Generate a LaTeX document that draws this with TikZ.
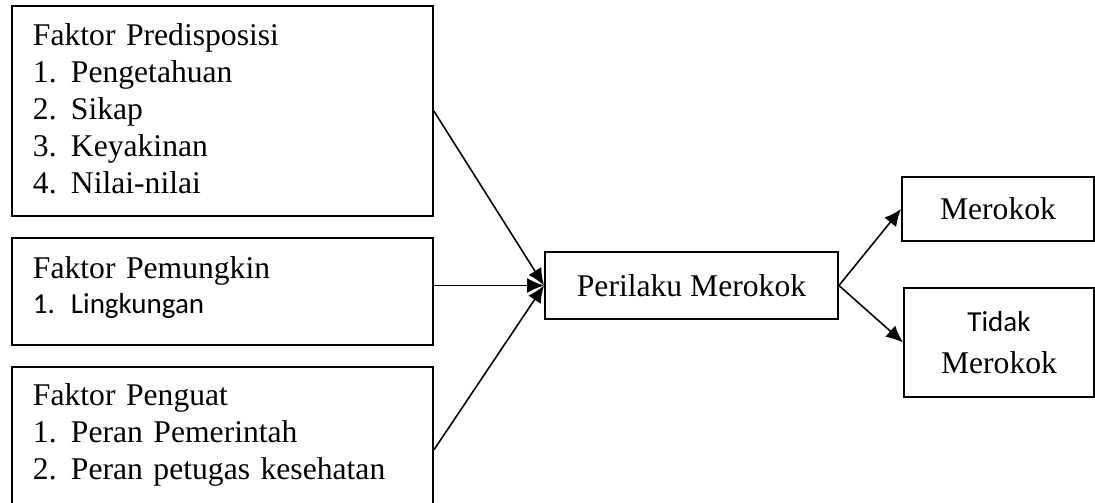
\documentclass[tikz,border=0pt]{standalone}
\usepackage{fontspec}
\setmainfont{Liberation Serif}
\newfontfamily\calibri{Carlito}
\usepackage{tikz}
\usetikzlibrary{arrows.meta, positioning}
\newcommand{\nomor}[1]{\makebox[0.76cm][l]{#1}}

\begin{document}
\begin{tikzpicture}[x=0.02cm, y=-0.02cm, ->, >={Latex[length=3.4mm, width=3mm]}, line width=0.9pt]
    \tikzstyle{faktor} = [draw, line width=1.1pt, anchor=north west, align=left, text width=7.58cm, inner xsep=0.42cm, inner ysep=0pt, font=\fontsize{18}{21}\selectfont]
    \tikzstyle{hasil} = [draw, line width=1.1pt, align=center, font=\fontsize{18}{21}\selectfont]
    \useasboundingbox (0,0) rectangle (1095,503);
    \node [faktor, text height=0.8cm, text depth=3.4cm] at (11,5) (predisposisi) {Faktor Predisposisi\\
        \nomor{1.}Pengetahuan\\ \nomor{2.}Sikap\\ \nomor{3.}Keyakinan\\ \nomor{4.}Nilai-nilai};
    \node [faktor, text height=0.82cm, text depth=1.32cm] at (11,237) (pemungkin) {Faktor Pemungkin\\[-1.2pt]
        {\calibri\fontsize{16.5}{20}\selectfont\nomor{1.}Lingkungan}};
    \node [faktor, text height=0.78cm, text depth=2.1cm] at (11,366) (penguat) {Faktor Penguat\\
        \nomor{1.}Peran Pemerintah\\ \nomor{2.}Peran petugas kesehatan};
    \node [hasil, minimum width=5.86cm, minimum height=1.34cm] at (691.5,285.5) (perilaku) {Perilaku Merokok};
    \node [hasil, minimum width=3.84cm, minimum height=1.28cm] at (998,209) (merokok) {Merokok};
    \node [hasil, minimum width=3.8cm, minimum height=2.18cm] at (999,342.5) (tidak) {{\calibri\fontsize{16.5}{20}\selectfont Tidak}\\[3pt]Merokok};
    \draw (predisposisi.east) -- (perilaku.west);
    \draw (pemungkin.east |- perilaku.west) -- (perilaku.west);
    \draw (penguat.east) ++(0,11) -- (perilaku.west);
    \draw (perilaku.east) -- (merokok.west);
    \draw (perilaku.east) -- (tidak.west);
\end{tikzpicture}
\end{document}
